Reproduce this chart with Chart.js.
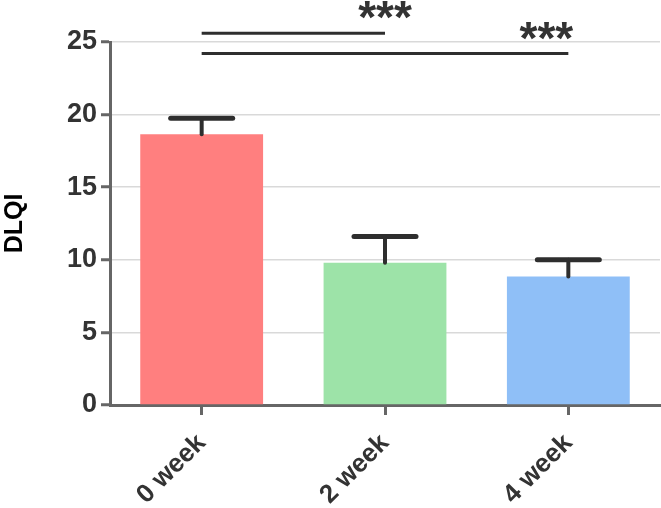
<!DOCTYPE html>
<html>
<head>
<meta charset="utf-8">
<script src="https://cdn.jsdelivr.net/npm/chart.js@4.4.1/dist/chart.umd.min.js"></script>
<style>
    html, body { margin: 0; padding: 0; background: #fff; }
    #wrap { width: 661px; height: 508px; }
</style>
</head>
<body>
<div id="wrap"><canvas id="myChart"></canvas></div>
<script>
// data
const weeks = ['0 week', '2 week', '4 week'];
const dlqiMean = [18.65, 9.8, 8.85];
const dlqiUpper = [19.75, 11.6, 10.0];   // mean + error
const barColors = ['#ff7f7f', '#9de3a8', '#8fbff7'];
const sigPairs = [[0, 1], [0, 2]];
const sigLevels = [25.6, 24.2];
const sigLabels = ['***', '***'];

const FONT = "'Liberation Sans', Arial, Helvetica, sans-serif";
const INK = '#2e2e2e';
const AXIS = '#666666';

const errorBars = {
    id: 'errorBars',
    afterDatasetsDraw(chart) {
        const ctx = chart.ctx;
        const y = chart.scales.y;
        const meta = chart.getDatasetMeta(0);
        ctx.save();
        ctx.strokeStyle = INK;
        ctx.lineCap = 'round';
        meta.data.forEach((bar, i) => {
            const top = y.getPixelForValue(dlqiUpper[i]);
            ctx.lineWidth = 4;
            ctx.beginPath();
            ctx.moveTo(bar.x, bar.y);
            ctx.lineTo(bar.x, top);
            ctx.stroke();
            ctx.lineWidth = 5;
            ctx.beginPath();
            ctx.moveTo(bar.x - 31, top);
            ctx.lineTo(bar.x + 31, top);
            ctx.stroke();
        });
        ctx.restore();
    }
};

const sigMarks = {
    id: 'sigMarks',
    afterDraw(chart) {
        const ctx = chart.ctx;
        const x = chart.scales.x;
        const y = chart.scales.y;
        const starShift = [0, -22];
        ctx.save();
        ctx.strokeStyle = INK;
        ctx.fillStyle = '#333';
        ctx.lineWidth = 3;
        ctx.font = 'bold 46px ' + FONT;
        ctx.textAlign = 'center';
        ctx.textBaseline = 'alphabetic';
        sigPairs.forEach((p, i) => {
            const x1 = x.getPixelForValue(p[0]);
            const x2 = x.getPixelForValue(p[1]);
            const yy = y.getPixelForValue(sigLevels[i]);
            ctx.beginPath();
            ctx.moveTo(x1, yy);
            ctx.lineTo(x2, yy);
            ctx.stroke();
            ctx.fillText(sigLabels[i], x2 + starShift[i], yy);
        });
        ctx.restore();
    }
};

const ctx = document.getElementById('myChart').getContext('2d');
const myChart = new Chart(ctx, {
    type: 'bar',
    data: {
        labels: weeks,
        datasets: [{
            data: dlqiMean,
            backgroundColor: barColors,
            borderWidth: 0,
            barPercentage: 0.67,
            categoryPercentage: 1.0
        }]
    },
    options: {
        responsive: true,
        maintainAspectRatio: false,
        animation: false,
        layout: { padding: { top: 42, right: 1, left: 0, bottom: 0 } },
        plugins: {
            legend: { display: false },
            tooltip: { enabled: false }
        },
        scales: {
            x: {
                grid: {
                    display: true,
                    drawOnChartArea: false,
                    drawTicks: true,
                    offset: false,
                    tickLength: 10,
                    tickColor: AXIS,
                    tickWidth: 3
                },
                border: { color: AXIS, width: 3 },
                ticks: {
                    color: '#333',
                    font: { family: FONT, size: 26, weight: 'bold' },
                    maxRotation: 45,
                    minRotation: 45,
                    padding: 13
                },
                afterFit(scale) { scale.height = 103; }
            },
            y: {
                min: 0,
                max: 25,
                grid: {
                    color: c => (c.tick && c.tick.value === 0) ? 'rgba(0,0,0,0)' : '#d9d9d9',
                    lineWidth: 1.5,
                    tickLength: 9,
                    tickColor: AXIS,
                    tickWidth: 3
                },
                border: { color: AXIS, width: 3 },
                ticks: {
                    stepSize: 5,
                    color: '#333',
                    font: { family: FONT, size: 27, weight: 'bold' },
                    padding: 4
                },
                title: {
                    display: true,
                    text: 'DLQI',
                    color: '#000',
                    font: { family: FONT, size: 25, weight: 'bold' },
                    padding: { top: 0, bottom: 6 }
                },
                afterFit(scale) { scale.width = 110; }
            }
        }
    },
    plugins: [errorBars, sigMarks]
});
</script>
</body>
</html>
